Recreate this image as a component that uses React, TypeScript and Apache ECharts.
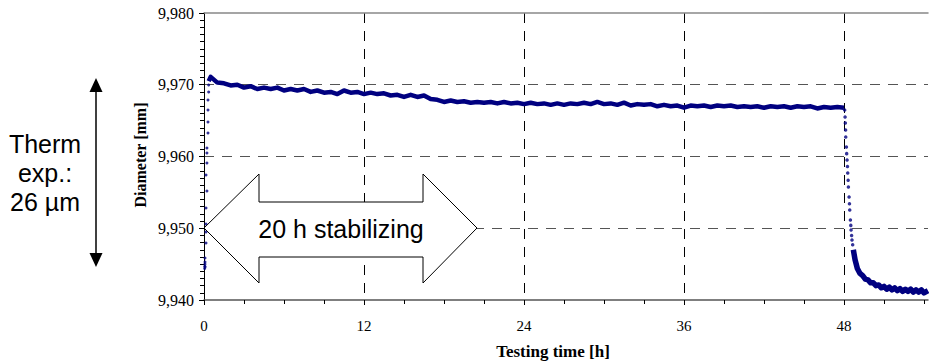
import React, { useEffect, useRef } from "react";
import * as echarts from "echarts";

// Axis settings
const xMin = 0;
const xMax = 54.3;
const xInterval = 12;
const xMajorTicks = [0, 12, 24, 36, 48];
const xMinorTicks = [3, 6, 9, 15, 18, 21, 27, 30, 33, 39, 42, 45, 51, 54];
const yMin = 9.94;
const yMax = 9.98;
const yInterval = 0.01;

// Rise at start of test [h, mm]
const riseData: [number, number][] = [
  [0.05, 9.9444], [0.06, 9.9447], [0.07, 9.945], [0.075, 9.9453], [0.08, 9.9446],
  [0.075, 9.94585], [0.15, 9.94794], [0.15, 9.94948], [0.15, 9.95059], [0.15, 9.95282],
  [0.22, 9.95519], [0.15, 9.95742], [0.22, 9.95909], [0.22, 9.96049], [0.22, 9.96118],
  [0.3, 9.96328], [0.3, 9.96481], [0.3, 9.96648], [0.3, 9.96787], [0.35, 9.96899],
  [0.35, 9.96997],
];

// Plateau [h, mm]
const plateauData: [number, number][] = [
  [0.35, 9.9705], [0.5, 9.9711], [1.0, 9.9703], [1.5, 9.9702], [2.0, 9.9699], [2.5, 9.97],
  [3.0, 9.9696], [3.5, 9.9698], [4.0, 9.9694], [4.5, 9.9696], [5.0, 9.9694], [5.5, 9.9696],
  [6.0, 9.9692], [6.5, 9.9694], [7.0, 9.9692], [7.5, 9.9694], [8.0, 9.969], [8.5, 9.9692],
  [9.0, 9.9689], [9.5, 9.969], [10.0, 9.9687], [10.5, 9.9692], [11.0, 9.9689], [11.5, 9.969],
  [12.0, 9.9687], [12.5, 9.9689], [13.0, 9.9687], [13.5, 9.9688], [14.0, 9.9685], [14.5, 9.9686],
  [15.0, 9.9683], [15.5, 9.9686], [16.0, 9.9683], [16.5, 9.9685], [17.0, 9.968], [17.5, 9.9679],
  [18.0, 9.9676], [18.5, 9.9678], [19.0, 9.9676], [19.5, 9.9677], [20.0, 9.9675], [20.5, 9.9676],
  [21.0, 9.9675], [21.5, 9.9676], [22.0, 9.9674], [22.5, 9.9676], [23.0, 9.9674], [23.5, 9.9675],
  [24.0, 9.9673], [24.5, 9.9675], [25.0, 9.9673], [25.5, 9.9674], [26.0, 9.9672], [26.5, 9.9674],
  [27.0, 9.9672], [27.5, 9.9674], [28.0, 9.9673], [28.5, 9.9675], [29.0, 9.9673], [29.5, 9.9676],
  [30.0, 9.9673], [30.5, 9.9674], [31.0, 9.9672], [31.5, 9.9675], [32.0, 9.9671], [32.5, 9.9673],
  [33.0, 9.9672], [33.5, 9.9673], [34.0, 9.967], [34.5, 9.9672], [35.0, 9.967], [35.5, 9.9671],
  [36.0, 9.9668], [36.5, 9.9671], [37.0, 9.967], [37.5, 9.9671], [38.0, 9.9669], [38.5, 9.9671],
  [39.0, 9.967], [39.5, 9.9671], [40.0, 9.9669], [40.5, 9.967], [41.0, 9.9669], [41.5, 9.967],
  [42.0, 9.9668], [42.5, 9.967], [43.0, 9.9669], [43.5, 9.967], [44.0, 9.9668], [44.5, 9.967],
  [45.0, 9.9669], [45.5, 9.967], [46.0, 9.9667], [46.5, 9.9669], [47.0, 9.9668], [47.5, 9.9669],
  [48.0, 9.9668],
];

// Cooling drop after 48 h [h, mm]
const dropData: [number, number][] = [
  [48.05, 9.96648], [48.08, 9.9655], [48.1, 9.96467], [48.12, 9.9637], [48.13, 9.96272],
  [48.18, 9.96132], [48.2, 9.9604], [48.23, 9.95951], [48.26, 9.9586], [48.28, 9.9577],
  [48.31, 9.9567], [48.33, 9.95575], [48.38, 9.95436], [48.41, 9.9534], [48.43, 9.95254],
  [48.48, 9.95115], [48.51, 9.9504], [48.53, 9.94976], [48.57, 9.949], [48.6, 9.94836],
  [48.65, 9.9477],
];

// Tail after cooling [h, mm]
const tailData: [number, number][] = [
  [48.7, 9.947], [48.83, 9.9456], [49.0, 9.9444], [49.2, 9.9437], [49.4, 9.9434],
  [49.6, 9.9429], [49.8, 9.9428], [50.0, 9.9424], [50.2, 9.9424], [50.4, 9.942], [50.6, 9.9421],
  [50.8, 9.9417], [51.0, 9.9419], [51.2, 9.9415], [51.4, 9.9418], [51.6, 9.9414], [51.8, 9.9417],
  [52.0, 9.9413], [52.2, 9.9416], [52.4, 9.9412], [52.6, 9.9415], [52.8, 9.9412], [53.0, 9.9415],
  [53.2, 9.9411], [53.4, 9.9414], [53.6, 9.9411], [53.8, 9.9414], [54.0, 9.941], [54.3, 9.9413],
];

const NAVY = "#000080";
const SERIF = "'Liberation Serif', 'Times New Roman', serif";
const SANS = "'Liberation Sans', Arial, sans-serif";

export default function App() {
  const ref = useRef<HTMLDivElement>(null);

  useEffect(() => {
    if (!ref.current) return;
    const chart = echarts.init(ref.current, undefined, { renderer: "svg" });

    const bigArrow = [
      [204, 228], [259, 174], [259, 202], [423, 202], [423, 174], [477, 228],
      [423, 283], [423, 257], [259, 257], [259, 283],
    ];

    chart.setOption({
      animation: false,
      backgroundColor: "#ffffff",
      grid: { left: 204, top: 13, right: 1, bottom: 63, containLabel: false, outerBoundsMode: "none" },
      xAxis: [
        {
          type: "value",
          min: xMin,
          max: xMax,
          interval: xInterval,
          position: "bottom",
          axisLine: { show: true, onZero: false, lineStyle: { color: "#555555", width: 1.5 } },
          axisTick: {
            show: true,
            inside: false,
            length: 5,
            customValues: xMajorTicks,
            lineStyle: { color: "#000", width: 1 },
          },
          minorTick: { show: false },
          axisLabel: {
            color: "#000",
            fontFamily: SERIF,
            fontSize: 15,
            margin: 18,
            customValues: xMajorTicks,
          },
          splitLine: {
            show: true,
            showMinLine: false,
            lineStyle: { color: "#000", type: [10, 8], width: 1 },
          },
        },
        {
          type: "value",
          min: xMin,
          max: xMax,
          position: "top",
          axisLine: { show: true, onZero: false, lineStyle: { color: "#888888", width: 1.5 } },
          axisTick: { show: false },
          axisLabel: { show: false },
          splitLine: { show: false },
        },
        {
          type: "value",
          min: xMin,
          max: xMax,
          interval: 3,
          position: "bottom",
          axisLine: { show: false, onZero: false },
          axisTick: {
            show: true,
            inside: false,
            length: 4,
            customValues: xMinorTicks,
            lineStyle: { color: "#000", width: 1 },
          },
          axisLabel: { show: false },
          splitLine: { show: false },
        },
      ],
      yAxis: {
        type: "value",
        min: yMin,
        max: yMax,
        interval: yInterval,
        axisLine: { show: true, onZero: false, lineStyle: { color: "#000", width: 1 } },
        axisTick: { show: true, inside: false, length: 5, lineStyle: { color: "#000", width: 1 } },
        minorTick: { show: true, splitNumber: 10, length: 4, lineStyle: { color: "#000", width: 1 } },
        axisLabel: {
          color: "#000",
          fontFamily: SERIF,
          fontSize: 16,
          margin: 10,
          formatter: (v: number) => v.toFixed(3).replace(".", ","),
        },
        splitLine: {
          show: true,
          showMinLine: false,
          showMaxLine: false,
          lineStyle: { color: "#555555", type: [10, 8], width: 1 },
        },
      },
      series: [
        {
          type: "line",
          data: plateauData,
          showSymbol: false,
          lineStyle: { color: NAVY, width: 4.5, join: "round" },
          z: 3,
        },
        {
          type: "scatter",
          data: riseData,
          symbol: "circle",
          symbolSize: 3,
          itemStyle: { color: NAVY },
          z: 3,
        },
        {
          type: "scatter",
          data: dropData,
          symbol: "circle",
          symbolSize: 3.5,
          itemStyle: { color: NAVY },
          z: 3,
        },
        {
          type: "line",
          data: tailData,
          showSymbol: false,
          lineStyle: { color: NAVY, width: 5.5, join: "round" },
          z: 3,
        },
      ],
      graphic: [
        {
          type: "text",
          x: 140,
          y: 155,
          rotation: Math.PI / 2,
          style: {
            text: "Diameter [mm]",
            fill: "#000",
            fontFamily: SERIF,
            fontWeight: "bold",
            fontSize: 16,
            align: "center",
            verticalAlign: "middle",
          },
        },
        {
          type: "text",
          x: 553,
          y: 351,
          style: {
            text: "Testing time [h]",
            fill: "#000",
            fontFamily: SERIF,
            fontWeight: "bold",
            fontSize: 17,
            align: "center",
            verticalAlign: "middle",
          },
        },
        {
          type: "text",
          x: 45,
          y: 173,
          style: {
            text: "Therm\nexp.:\n26 µm",
            fill: "#000",
            fontFamily: SANS,
            fontSize: 25,
            lineHeight: 29,
            align: "center",
            verticalAlign: "middle",
          },
        },
        {
          type: "line",
          shape: { x1: 96, y1: 90, x2: 96, y2: 255 },
          style: { stroke: "#000", lineWidth: 1.5 },
        },
        {
          type: "polygon",
          shape: { points: [[96, 78], [89.5, 92], [102.5, 92]] },
          style: { fill: "#000" },
        },
        {
          type: "polygon",
          shape: { points: [[96, 267], [89.5, 253], [102.5, 253]] },
          style: { fill: "#000" },
        },
        {
          type: "polygon",
          z: 10,
          shape: { points: bigArrow },
          style: { fill: "#ffffff", stroke: "#000", lineWidth: 1 },
        },
        {
          type: "text",
          z: 11,
          x: 341,
          y: 229,
          style: {
            text: "20 h stabilizing",
            fill: "#000",
            fontFamily: SANS,
            fontSize: 25,
            align: "center",
            verticalAlign: "middle",
          },
        },
      ],
    });

    return () => chart.dispose();
  }, []);

  return (
    <div
      ref={ref}
      style={{ position: "absolute", left: 0, top: 0, width: 929, height: 363 }}
    />
  );
}
